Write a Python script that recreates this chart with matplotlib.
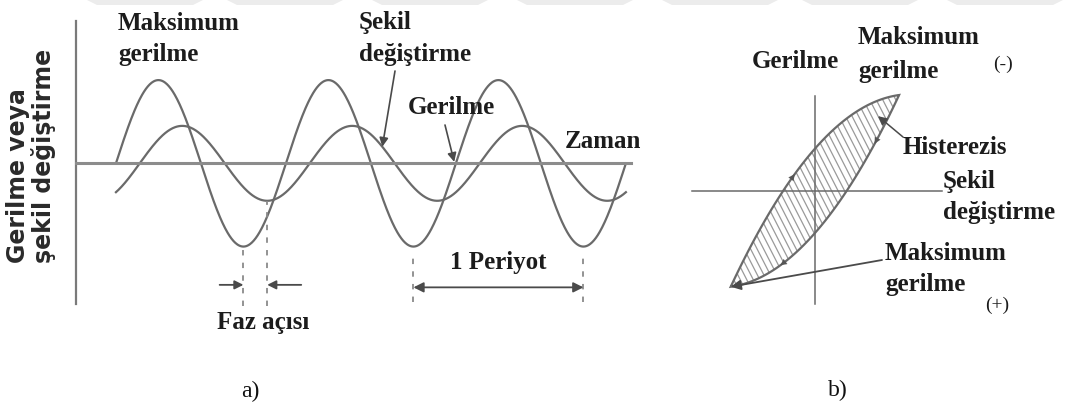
import numpy as np
import matplotlib
matplotlib.use("Agg")
import matplotlib.pyplot as plt
from matplotlib.patches import Polygon

# dalga parametreleri (periyot cinsinden zaman)
zaman_araligi = [0.0, 3.0]
gerilme_genlik = 1.0
sekil_genlik = 0.45
faz_gecikme = 0.14

# histerezis halkasi: uc noktalar ve halka kalinligi
halka_uclar = [-1.0, 1.0]
halka_kalinlik = 0.44

serif = "Liberation Serif"
yazi = "#1c1c1c"
cizgi = "#6a6a6a"

W, H = 1070, 410
fig = plt.figure(figsize=(W / 100, H / 100), dpi=100)

def fx(px):
    return px / W

def fy(py):
    return 1 - py / H

def etiket(x, y, s, size=18, weight="bold", fam=serif, **kw):
    fig.text(fx(x), fy(y), s, fontsize=size, fontweight=weight,
             family=fam, color=yazi, va="center", ha="left", **kw)

# ustteki soluk desen
for x0 in [85, 225, 370, 515, 660, 800, 945]:
    fig.patches.append(Polygon([[fx(x0), fy(0)], [fx(x0 + 120), fy(0)], [fx(x0 + 108), fy(6)], [fx(x0 + 12), fy(6)]],
                               closed=True, transform=fig.transFigure, facecolor="#ececec", edgecolor="none"))

# sol panel: gerilme ve sekil degistirme - zaman
ax1 = fig.add_axes([fx(76), fy(305), fx(631) - fx(76), fy(22) - fy(305)])
ax1.set_xlim(-0.235, 3.03)
ax1.set_ylim(-1.69, 1.71)
for s in ["top", "right"]:
    ax1.spines[s].set_visible(False)
ax1.spines["bottom"].set_position("zero")
ax1.spines["bottom"].set_color("#8c8c8c")
ax1.spines["bottom"].set_linewidth(2.2)
ax1.spines["left"].set_color("#7a7a7a")
ax1.spines["left"].set_linewidth(1.6)
ax1.set_xticks([])
ax1.set_yticks([])
ax1.patch.set_alpha(0)

t = np.linspace(zaman_araligi[0], zaman_araligi[1], 800)

def gerilme(t):
    return gerilme_genlik * np.sin(2 * np.pi * t)

def sekil(t):
    return sekil_genlik * np.sin(2 * np.pi * (t - faz_gecikme))

ax1.plot(t, gerilme(t), color=cizgi, lw=1.6)
ax1.plot(t, sekil(t), color=cizgi, lw=1.6)

# faz acisi ve periyot kesikli cizgileri
dip1 = 0.75
dip2 = dip1 + faz_gecikme
kesik = dict(colors="#8a8a8a", lw=1.3, linestyles=(0, (3, 4)), clip_on=False)
ax1.vlines(dip1, -1.72, gerilme(dip1), **kesik)
ax1.vlines(dip2, -1.72, sekil(dip2), **kesik)
ax1.vlines([1.75, 2.75], -1.66, -1.06, **kesik)

ok = dict(arrowstyle="-|>", color="#4a4a4a", lw=1.3, mutation_scale=13, shrinkA=0, shrinkB=0)
ax1.annotate("", xy=(dip1, -1.46), xytext=(dip1 - 0.14, -1.46), arrowprops=ok, annotation_clip=False)
ax1.annotate("", xy=(dip2, -1.46), xytext=(dip2 + 0.2, -1.46), arrowprops=ok, annotation_clip=False)
ax1.annotate("", xy=(1.75, -1.49), xytext=(2.75, -1.49),
             arrowprops=dict(arrowstyle="<|-|>", color="#4a4a4a", lw=1.3, mutation_scale=15,
                             shrinkA=0, shrinkB=0), annotation_clip=False)

# etiket oklari
t_sekil = 1.567
ax1.annotate("", xy=(t_sekil, sekil(t_sekil)), xytext=(fx(395), fy(72)), textcoords="figure fraction",
             arrowprops=dict(ok, lw=1.2), annotation_clip=False)
t_ger = 1.99
ax1.annotate("", xy=(t_ger, gerilme(t_ger) + 0.08), xytext=(fx(445), fy(126)), textcoords="figure fraction",
             arrowprops=dict(ok, lw=1.2), annotation_clip=False)

etiket(118, 23, "Maksimum")
etiket(118, 55, "gerilme")
etiket(359, 22, "Şekil")
etiket(359, 55, "değiştirme")
etiket(408, 108, "Gerilme")
etiket(565, 142, "Zaman")
etiket(450, 262, "1 Periyot")
etiket(217, 322, "Faz açısı")

fig.text(fx(18), fy(263), "Gerilme veya", rotation=90, ha="center", va="bottom",
         fontsize=17, fontweight="bold", family="DejaVu Sans", color="#2a2a2a")
fig.text(fx(44), fy(263), "şekil değiştirme", rotation=90, ha="center", va="bottom",
         fontsize=17, fontweight="bold", family="DejaVu Sans", color="#2a2a2a")

# sag panel: histerezis halkasi
ax2 = fig.add_axes([fx(692), fy(305), fx(942) - fx(692), fy(97) - fy(305)])
ax2.set_xlim(-1.46, 1.51)
ax2.set_ylim(-1.18, 0.99)
for s in ["top", "right"]:
    ax2.spines[s].set_visible(False)
for s in ["left", "bottom"]:
    ax2.spines[s].set_position("zero")
    ax2.spines[s].set_color("#6a6a6a")
    ax2.spines[s].set_linewidth(1.1)
ax2.set_xticks([])
ax2.set_yticks([])
ax2.patch.set_alpha(0)

e = np.linspace(halka_uclar[0], halka_uclar[1], 300)

def ust(x):
    return x + halka_kalinlik * (1 - x ** 2)

def alt(x):
    return x - halka_kalinlik * (1 - x ** 2)

kx = np.concatenate([e, e[::-1]])
ky = np.concatenate([ust(e), alt(e[::-1])])
halka = Polygon(np.column_stack([kx, ky]), closed=True, facecolor="none",
                edgecolor="#6a6a6a", lw=1.6, clip_on=False, zorder=3)
ax2.add_patch(halka)

# ic tarama: dik egik cizgiler, halkaya kirpilmis
aci = np.deg2rad(-63)
dx, dy = np.cos(aci) / 84, np.sin(aci) / 96
for c in np.arange(-2.2, 2.2, 6.5 / 84):
    ln, = ax2.plot([c - 3 * dx * 100, c + 3 * dx * 100], [-3 * dy * 100, 3 * dy * 100],
                   color="#9a9a9a", lw=0.9, clip_on=True)
    ln.set_clip_path(halka)

# halka uzerindeki yon oklari
hk = dict(arrowstyle="-|>", color="#555555", lw=0.1, mutation_scale=11, shrinkA=0, shrinkB=0)
for x0 in [-0.27]:
    ax2.annotate("", xy=(x0 + 0.03, ust(x0 + 0.03)), xytext=(x0, ust(x0)), arrowprops=hk, annotation_clip=False)
for x0 in [0.74, -0.38]:
    ax2.annotate("", xy=(x0 - 0.03, alt(x0 - 0.03)), xytext=(x0, alt(x0)), arrowprops=hk, annotation_clip=False)

ax2.annotate("", xy=(0.75, 0.78), xytext=(fx(903), fy(138)), textcoords="figure fraction",
             arrowprops=dict(ok, lw=1.1), annotation_clip=False)
ax2.annotate("", xy=(halka_uclar[0], halka_uclar[0]), xytext=(fx(882), fy(261)), textcoords="figure fraction",
             arrowprops=dict(ok, lw=1.3, mutation_scale=15), annotation_clip=False)

etiket(752, 62, "Gerilme")
etiket(858, 38, "Maksimum")
etiket(858, 72, "gerilme")
etiket(993, 64, "(-)", size=14, weight="normal")
etiket(903, 147, "Histerezis")
etiket(943, 182, "Şekil")
etiket(943, 213, "değiştirme")
etiket(885, 253, "Maksimum")
etiket(885, 285, "gerilme")
etiket(985, 305, "(+)", size=14, weight="normal")

fig.text(fx(250), fy(391), "a)", ha="center", va="center", fontsize=17, family=serif, color="#111111")
fig.text(fx(838), fy(390), "b)", ha="center", va="center", fontsize=17, family=serif, color="#111111")

fig.savefig("out.png", dpi=100)
